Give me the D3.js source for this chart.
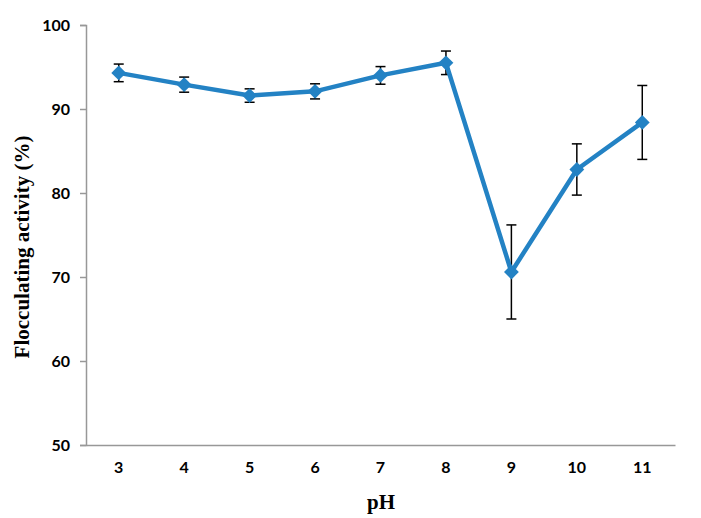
<!DOCTYPE html>
<html><head><meta charset="utf-8">
<script src="https://cdn.jsdelivr.net/npm/d3@7"></script>
<style>body{margin:0;background:#fff}svg{display:block}</style>
</head><body>
<div id="chart"></div>
<script>
const categories = ["3","4","5","6","7","8","9","10","11"];
const values = [94.3, 92.9, 91.6, 92.1, 94.0, 95.5, 70.6, 82.8, 88.4];
const errors = [1.05, 0.9, 0.8, 0.9, 1.05, 1.4, 5.6, 3.05, 4.4];
const yTicks = [50, 60, 70, 80, 90, 100];

const W = 701, H = 518;
const svg = d3.select("#chart").append("svg").attr("width", W).attr("height", H);
const mLeft = 86, mRight = 675, mTop = 25, mBottom = 445;
const x = d3.scaleBand().domain(categories).range([mLeft, mRight]);
const y = d3.scaleLinear().domain([50, 100]).range([mBottom, mTop]);
const data = categories.map((c, i) => ({c, v: values[i], e: errors[i]}));
const axisColor = "#989898";
const tickFont = "Lato, 'Open Sans', sans-serif";

// y axis
const ya = svg.append("g").attr("transform", `translate(${mLeft},0)`)
  .call(d3.axisLeft(y).tickValues(yTicks).tickSize(6).tickPadding(10).tickFormat(d3.format("d")));
ya.select(".domain").attr("stroke", axisColor).attr("stroke-width", 1.5);
ya.selectAll(".tick line").attr("stroke", axisColor).attr("stroke-width", 1.5);
ya.selectAll(".tick text").attr("font-family", tickFont).attr("font-weight", "bold")
  .attr("font-size", 16).attr("fill", "#000");

// x axis
const xa = svg.append("g").attr("transform", `translate(0,${mBottom})`)
  .call(d3.axisBottom(x).tickSize(0).tickPadding(17).tickSizeOuter(0));
xa.select(".domain").attr("stroke", axisColor).attr("stroke-width", 1.5);
xa.selectAll(".tick text").attr("font-family", tickFont).attr("font-weight", "bold")
  .attr("font-size", 16).attr("fill", "#000");

// axis titles
svg.append("text").attr("x", 381).attr("y", 509).attr("text-anchor", "middle")
  .attr("font-family", "'Liberation Serif', 'Times New Roman', serif").attr("font-weight", "bold")
  .attr("font-size", 21).text("pH");
svg.append("text").attr("transform", `translate(29,247) rotate(-90)`).attr("text-anchor", "middle")
  .attr("font-family", "'Liberation Serif', 'Times New Roman', serif").attr("font-weight", "bold")
  .attr("font-size", 21).text("Flocculating activity (%)");

const cx = d => x(d.c) + x.bandwidth() / 2;

// error bars
const eb = svg.append("g").attr("stroke", "#000").attr("stroke-width", 1.5);
data.forEach(d => {
  eb.append("line").attr("x1", cx(d)).attr("x2", cx(d)).attr("y1", y(d.v + d.e)).attr("y2", y(d.v - d.e));
  eb.append("line").attr("x1", cx(d) - 5).attr("x2", cx(d) + 5).attr("y1", y(d.v + d.e)).attr("y2", y(d.v + d.e));
  eb.append("line").attr("x1", cx(d) - 5).attr("x2", cx(d) + 5).attr("y1", y(d.v - d.e)).attr("y2", y(d.v - d.e));
});

// line
const blue = "#2382C4";
svg.append("path").datum(data)
  .attr("d", d3.line().x(cx).y(d => y(d.v)))
  .attr("fill", "none").attr("stroke", blue).attr("stroke-width", 4.5).attr("stroke-linejoin", "round");

// markers
svg.append("g").selectAll("path").data(data).join("path")
  .attr("transform", d => `translate(${cx(d)},${y(d.v)}) rotate(45)`)
  .attr("d", d3.symbol().type(d3.symbolSquare).size(110))
  .attr("fill", blue);
</script>
</body></html>
